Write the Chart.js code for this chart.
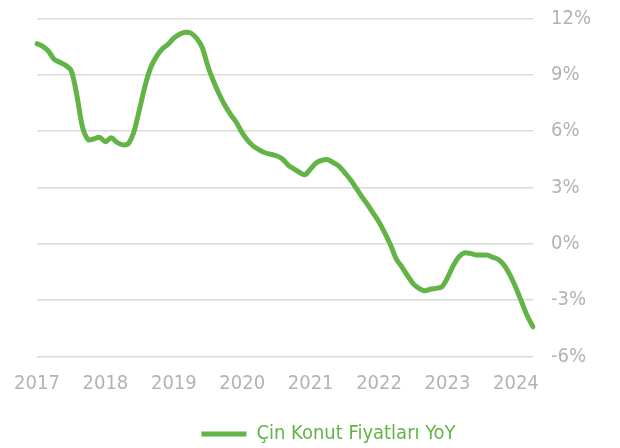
<!DOCTYPE html>
<html>
<head>
<meta charset="utf-8">
<script src="https://cdn.jsdelivr.net/npm/chart.js@4"></script>
<style>
  html, body { margin: 0; padding: 0; background: #fff; }
  #wrap { width: 620px; height: 448px; }
</style>
</head>
<body>
<div id="wrap"><canvas id="chart-area"></canvas></div>
<script>
	// years shown on the x axis, one point per month from Jan 2017 to Apr 2024
	var years = ["2017", "2018", "2019", "2020", "2021", "2022", "2023", "2024"];
	var lastMonth = 4;
	var seriesName = "Çin Konut Fiyatları YoY";
	var yTicks = [-6, -3, 0, 3, 6, 9, 12];

	// China home prices, YoY %
	var homePrices = [
		10.66, 10.52, 10.26, 9.83, 9.67, 9.51, 9.22, 7.9, 6.2, 5.54, 5.59, 5.67,
		5.43, 5.65, 5.41, 5.27, 5.33, 5.97, 7.19, 8.47, 9.43, 10.0, 10.39, 10.63,
		10.95, 11.16, 11.27, 11.22, 10.95, 10.44, 9.43, 8.63, 7.94, 7.35, 6.87, 6.45,
		5.91, 5.49, 5.19, 5.0, 4.85, 4.77, 4.69, 4.53, 4.21, 4.0, 3.81, 3.68,
		4.0, 4.32, 4.45, 4.48, 4.32, 4.13, 3.78, 3.41, 2.96, 2.5, 2.08, 1.62,
		1.15, 0.59, -0.05, -0.8, -1.23, -1.7, -2.13, -2.37, -2.5, -2.42, -2.37, -2.29,
		-1.81, -1.17, -0.69, -0.48, -0.51, -0.59, -0.59, -0.6, -0.72, -0.85, -1.17, -1.68,
		-2.34, -3.09, -3.84, -4.42
	];

	init();

function init () {
	var labels = buildMonths();
	lineChart(labels);
}

function buildMonths () {
	var out = [];
	for (var i = 0; i < years.length; i++) {
		var n = (i == years.length - 1) ? lastMonth : 12;
		for (var m = 1; m <= n; m++) {
			out.push(years[i] + "-" + (m < 10 ? "0" + m : m));
		}
	}
	return out;
}

function lineChart (labels) {
	var green = "#62b446";
	var font = { family: "'Liberation Sans Narrow', 'DejaVu Sans Condensed', sans-serif", size: 20 };

	var config = {
		type: 'line',
		data: {
			labels: labels,
			datasets: [{
				label: seriesName,
				data: homePrices,
				borderColor: green,
				backgroundColor: green,
				borderWidth: 5,
				borderCapStyle: 'round',
				pointRadius: 0,
				tension: 0.3,
				fill: false
			}]
		},
		options: {
			responsive: true,
			maintainAspectRatio: false,
			animation: false,
			layout: { padding: { left: 37, top: 18.5, right: 0, bottom: -6 } },
			scales: {
				x: {
					grid: { display: false },
					border: { display: false },
					afterFit: function (scale) { scale.height = 67.5; },
					ticks: {
						autoSkip: false,
						maxRotation: 0,
						padding: 7,
						color: "#b3b3b3",
						font: font,
						callback: function (val, idx) {
							var lab = this.getLabelForValue(val);
							return lab.slice(5) == "01" ? lab.slice(0, 4) : "";
						}
					}
				},
				y: {
					position: 'right',
					min: yTicks[0],
					max: yTicks[yTicks.length - 1],
					// tick padding also pads the top, keep only the layout padding
					afterFit: function (scale) { scale.width = 87; scale.paddingTop = 0; },
					grid: { color: "#d9d9d9", lineWidth: 1.5, drawTicks: false },
					border: { display: false },
					ticks: {
						stepSize: 3,
						padding: 18,
						color: "#b3b3b3",
						font: font,
						callback: function (v) { return v + "%"; }
					}
				}
			},
			plugins: {
				tooltip: { enabled: false },
				legend: {
					position: 'bottom',
					labels: {
						boxWidth: 45,
						boxHeight: 5,
						padding: 0,
						color: green,
						font: font,
						generateLabels: function (chart) {
							var items = Chart.defaults.plugins.legend.labels.generateLabels(chart);
							items.forEach(function (it) { it.lineWidth = 0; it.fontColor = green; });
							return items;
						}
					}
				}
			}
		}
	};

	var ctx = document.getElementById("chart-area").getContext("2d");
	window.myLine = new Chart(ctx, config);
}
</script>
</body>
</html>
